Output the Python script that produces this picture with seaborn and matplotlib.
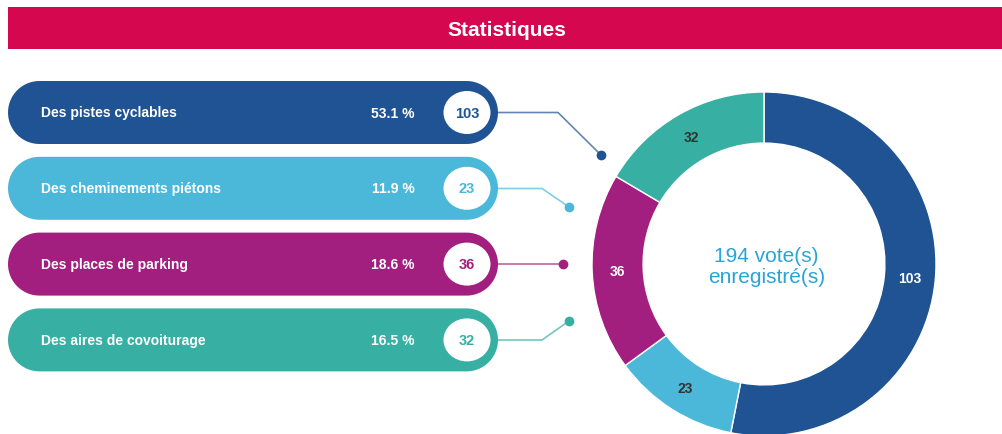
import numpy as np
import matplotlib.pyplot as plt
import seaborn as sns
from matplotlib.patches import FancyBboxPatch, Ellipse, Polygon

categories = ['Des pistes cyclables', 'Des cheminements piétons',
              'Des places de parking', 'Des aires de covoiturage']
votes = [103, 23, 36, 32]
percent_labels = ['53.1 %', '11.9 %', '18.6 %', '16.5 %']
total_label = '194 vote(s)\nenregistré(s)'
title = 'Statistiques'

colors = ['#1f5393', '#4bb8da', '#a31f7f', '#37b0a3']
pie_text_colors = ['white', '#333333', 'white', '#333333']

sns.set_theme(style='white')
plt.rcParams['font.family'] = ['Liberation Sans', 'DejaVu Sans']
palette = sns.color_palette(colors)

W, H = 1002, 435
fig = plt.figure(figsize=(W / 100, H / 100), dpi=100, facecolor='white')

# pixel-space axes for banner, pills and connectors
ax = fig.add_axes([0, 0, 1, 1])
ax.set_xlim(0, W)
ax.set_ylim(H, 0)
ax.axis('off')

ax.add_patch(FancyBboxPatch((8, 8), 994, 42, boxstyle='square,pad=0',
                            facecolor='#d4074f', edgecolor='none'))
ax.text(507, 30, title, color='white', fontsize=15, fontweight='bold',
        ha='center', va='center')


def pill(x0, x1, top, h):
    # stadium shape: two half circles joined by straight edges
    r = h / 2
    cy = top + r
    t = np.linspace(np.pi / 2, 3 * np.pi / 2, 40)
    left = np.column_stack([x0 + r + r * np.cos(t), cy - r * np.sin(t)])
    t2 = np.linspace(-np.pi / 2, np.pi / 2, 40)
    right = np.column_stack([x1 - r + r * np.cos(t2), cy - r * np.sin(t2)])
    return np.vstack([left, right])


pill_h = 63
connectors = [
    [(497, 113.5), (558, 113.5), (601, 156)],
    [(497, 189.5), (542, 189.5), (569, 208)],
    [(497, 265), (563, 265)],
    [(497, 341), (542, 341), (569, 322)],
]

for i, (cat, pct, v) in enumerate(zip(categories, percent_labels, votes)):
    top = 82 + 75.8 * i
    cy = top + pill_h / 2
    c = palette[i]
    ax.add_patch(Polygon(pill(8, 498, top, pill_h), closed=True,
                         facecolor=c, edgecolor='none'))
    ax.add_patch(Ellipse((467, cy), 47, 43, facecolor='white', edgecolor='none'))
    ax.text(41, cy, cat, color='white', fontsize=10, fontweight='bold',
            ha='left', va='center')
    ax.text(415, cy, pct, color='white', fontsize=10, fontweight='bold',
            ha='right', va='center')
    ax.text(467, cy, str(v), color=c, fontsize=10.5, fontweight='bold',
            ha='center', va='center')
    pts = connectors[i]
    xs = [p[0] for p in pts]
    ys = [p[1] for p in pts]
    ax.plot(xs, ys, color=c, alpha=0.7, lw=1.2, solid_capstyle='butt')
    ax.plot(xs[-1], ys[-1], 'o', color=c, markersize=6)

# donut
cx, cyd, r = 764, 265, 172
pax = fig.add_axes([(cx - r) / W, (H - cyd - r) / H, 2 * r / W, 2 * r / H])
pax.set_facecolor('none')
wedges, _, autotexts = pax.pie(votes, colors=palette, startangle=90,
                               counterclock=False, autopct='%d',
                               pctdistance=0.852,
                               wedgeprops=dict(width=0.297, edgecolor='white',
                                               linewidth=1))
for t, v, tc in zip(autotexts, votes, pie_text_colors):
    t.set_text(str(v))
    t.set_color(tc)
    t.set_fontsize(10)
    t.set_fontweight('bold')
pax.set_xlim(-1, 1)
pax.set_ylim(-1, 1)
pax.text(0.015, -0.01, total_label, color='#2aa3d6', fontsize=15,
         ha='center', va='center', linespacing=1.15)

fig.savefig('out.png', dpi=100, facecolor='white')
